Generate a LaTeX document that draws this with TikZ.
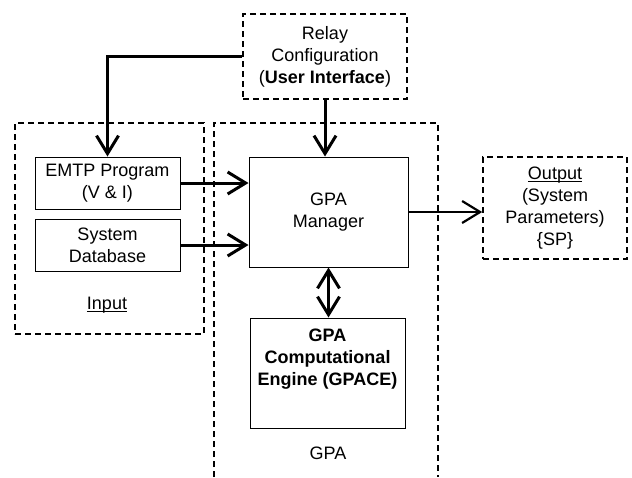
\documentclass[tikz,border=0pt]{standalone}
\usepackage{fontspec}
\setmainfont{Liberation Sans}
\usetikzlibrary{arrows.meta}
\newcommand{\ulin}[1]{\underline{\smash{#1}}\vphantom{#1}}
\begin{document}
\begin{tikzpicture}[x=1pt,y=-1pt,
  every node/.style={font=\fontsize{18}{22}\selectfont, inner sep=0pt, align=center},
  dbox/.style={draw, line width=1.6pt, dash pattern=on 6pt off 4pt},
  sbox/.style={draw, line width=1pt},
  barb/.tip={Straight Barb[length=18pt,width=22pt]},
  conn/.style={line width=3pt, -barb},
  boldtxt/.style={font=\fontsize{18}{22}\selectfont\bfseries}
]
\useasboundingbox[fill=white] (0,0) rectangle (632,477);

% Relay configuration
\node[dbox, minimum width=164pt, minimum height=85pt] (relay) at (325,56.5)
  {Relay\\Configuration\\(\textbf{User Interface})};

% Input group
\node[dbox, minimum width=189pt, minimum height=211pt] (inbox) at (109.5,228.5) {};
\node[sbox, minimum width=145pt, minimum height=52pt] (emtp) at (107.5,183) {EMTP Program\\(V \& I)};
\node[sbox, minimum width=145pt, minimum height=52pt] (db) at (107.5,245) {System\\Database};
\node (inlabel) at (107,305) {\ulin{Input}};

% GPA group (open at the bottom)
\coordinate (gbl) at (214,477);
\coordinate (gtl) at (214,123);
\coordinate (gtr) at (438,123);
\coordinate (gbr) at (438,477);
\draw[line width=1.6pt, dash pattern=on 6pt off 4pt] (gbl) -- (gtl) -- (gtr) -- (gbr);

\node[sbox, minimum width=159pt, minimum height=110pt] (mgr) at (328.5,212) {GPA\\Manager};
\node[sbox, minimum width=155pt, minimum height=110pt] (gpace) at (327.5,373) {};
\node[boldtxt] (gpacetxt) at (327.5,359) {GPA\\Computational\\Engine (GPACE)};
\node (gpalabel) at (328,453) {GPA};

% Output
\node[dbox, minimum width=144pt, minimum height=102pt] (out) at (555,208)
  {\ulin{Output}\\(System\\Parameters)\\\{SP\}};

% Connectors
\draw[conn] (emtp.east) -- (mgr.west |- emtp.east);
\draw[conn] (db.east) -- (mgr.west |- db.east);
\draw[conn, line width=2.2pt] (mgr.east) -- (out.west |- mgr.east);
\draw[conn] (relay.south) -- (relay.south |- mgr.north);
\draw[conn] (relay.west) -- (emtp.north |- relay.west) -- (emtp.north);
\draw[line width=3pt, barb-barb] (mgr.south) -- (mgr.south |- gpace.north);
\end{tikzpicture}
\end{document}
